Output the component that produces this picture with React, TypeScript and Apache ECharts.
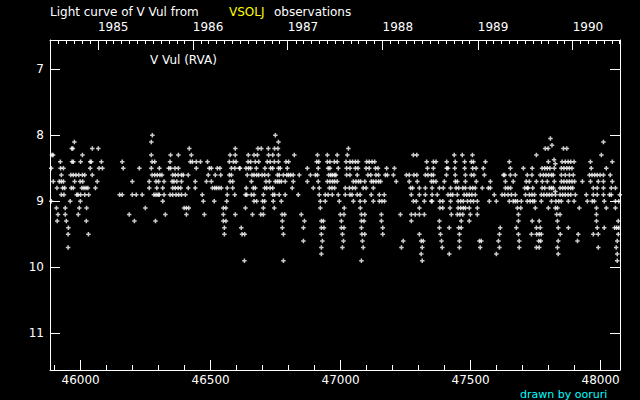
import React, { useEffect, useRef } from "react";
import * as echarts from "echarts";

// Observations of V Vul (JD - 2400000), grouped by estimated visual magnitude
const m80 = [46276, 46749];
const m81 = [45976, 46272, 46761, 48011];
const m82 = [45966, 45970, 46045, 46068, 46418, 46595, 46682, 46695, 46722, 46746, 46759, 47030, 47787, 47798, 47857, 47870];
const m83 = [45890, 45894, 46007, 46272, 46346, 46376, 46426, 46575, 46595, 46645, 46667, 46680, 46723, 46739, 46761, 46822, 46911, 46949, 46987, 47026, 47280, 47293, 47437, 47468, 47507, 47753, 48003];
const m84 = [45922, 45967, 45972, 46000, 46037, 46041, 46080, 46160, 46275, 46285, 46344, 46422, 46430, 46445, 46461, 46488, 46572, 46588, 46598, 46644, 46654, 46672, 46685, 46718, 46729, 46745, 46761, 46790, 46800, 46908, 46916, 46949, 46959, 46976, 46987, 47021, 47036, 47046, 47057, 47067, 47100, 47110, 47121, 47131, 47331, 47357, 47367, 47408, 47441, 47477, 47503, 47511, 47557, 47649, 47799, 47852, 47864, 47875, 47885, 47898, 47961, 48045];
const m85 = [45887, 45923, 45934, 46037, 46071, 46084, 46164, 46226, 46272, 46303, 46339, 46346, 46363, 46376, 46445, 46495, 46503, 46526, 46536, 46580, 46593, 46611, 46613, 46636, 46646, 46654, 46676, 46709, 46731, 46739, 46761, 46768, 46795, 46872, 46914, 46952, 46959, 46991, 47023, 47036, 47057, 47067, 47098, 47110, 47134, 47144, 47177, 47207, 47334, 47357, 47408, 47413, 47439, 47477, 47508, 47521, 47549, 47653, 47703, 47737, 47775, 47785, 47795, 47805, 47822, 47849, 47859, 47870, 47880, 47890, 47964, 48022];
const m86 = [45926, 45962, 45972, 45982, 45993, 46007, 46016, 46045, 46275, 46285, 46295, 46305, 46313, 46354, 46364, 46375, 46388, 46395, 46414, 46491, 46518, 46539, 46572, 46580, 46641, 46659, 46667, 46677, 46685, 46698, 46708, 46722, 46757, 46764, 46780, 46793, 46800, 46808, 46818, 46841, 46884, 46903, 46911, 46954, 46962, 46969, 46977, 46982, 47023, 47036, 47064, 47105, 47116, 47136, 47146, 47172, 47180, 47203, 47253, 47264, 47282, 47293, 47326, 47336, 47349, 47357, 47407, 47441, 47480, 47503, 47513, 47553, 47626, 47631, 47653, 47672, 47718, 47736, 47768, 47780, 47790, 47800, 47811, 47818, 47849, 47864, 47880, 47895, 47957, 47967, 47977, 47987, 47998, 48011, 48037];
const m87 = [45895, 45918, 45926, 45934, 45977, 45998, 46008, 46064, 46199, 46264, 46290, 46300, 46321, 46352, 46359, 46370, 46388, 46441, 46484, 46503, 46575, 46585, 46657, 46713, 46726, 46749, 46757, 46764, 46772, 46787, 46818, 46872, 46914, 46949, 46959, 46969, 46977, 46987, 47049, 47059, 47069, 47077, 47093, 47118, 47126, 47136, 47146, 47154, 47214, 47264, 47295, 47349, 47357, 47367, 47399, 47441, 47449, 47480, 47522, 47576, 47634, 47664, 47714, 47726, 47753, 47776, 47795, 47822, 47849, 47859, 47870, 47880, 47890, 47900, 47930, 47961, 47991, 48011, 48045];
const m88 = [45909, 45931, 45939, 45964, 45972, 46005, 46013, 46021, 46028, 46057, 46264, 46293, 46316, 46354, 46364, 46375, 46385, 46414, 46441, 46507, 46516, 46523, 46532, 46541, 46564, 46585, 46637, 46664, 46672, 46708, 46716, 46729, 46739, 46814, 46895, 46918, 46957, 46967, 46977, 47018, 47034, 47046, 47057, 47087, 47098, 47126, 47269, 47277, 47303, 47326, 47352, 47380, 47395, 47423, 47444, 47454, 47470, 47480, 47498, 47508, 47518, 47545, 47568, 47576, 47634, 47644, 47654, 47708, 47718, 47721, 47739, 47775, 47785, 47803, 47811, 47818, 47844, 47854, 47864, 47875, 47885, 47893, 47972, 47987, 48011, 48041, 48057];
const m89 = [45926, 45936, 45985, 45990, 46000, 46016, 46031, 46150, 46160, 46199, 46214, 46237, 46282, 46290, 46298, 46303, 46321, 46344, 46354, 46367, 46377, 46388, 46403, 46468, 46564, 46593, 46634, 46639, 46657, 46667, 46703, 46739, 46746, 46764, 46787, 46837, 46918, 46941, 46952, 46968, 46991, 47018, 47036, 47044, 47064, 47075, 47118, 47149, 47168, 47272, 47303, 47326, 47352, 47372, 47413, 47423, 47431, 47449, 47475, 47485, 47495, 47505, 47518, 47591, 47621, 47631, 47644, 47657, 47672, 47711, 47726, 47736, 47746, 47772, 47782, 47793, 47803, 47813, 47826, 47844, 47854, 47864, 47875, 47885, 47903, 47945, 47972, 47987, 48011, 48034, 48041, 48074];
const m90 = [45887, 45960, 45999, 46316, 46472, 46514, 46562, 46667, 46677, 46700, 46708, 46741, 46772, 46922, 46941, 46995, 47049, 47075, 47093, 47126, 47149, 47159, 47169, 47280, 47291, 47322, 47349, 47352, 47382, 47393, 47423, 47452, 47462, 47472, 47488, 47500, 47511, 47526, 47572, 47599, 47649, 47664, 47672, 47680, 47695, 47718, 47729, 47739, 47746, 47772, 47811, 47828, 47839, 47849, 47876, 47898, 47949, 47968, 47976, 48014, 48057, 48070];
const m91 = [45907, 45941, 45995, 46023, 46249, 46398, 46407, 46416, 46549, 46559, 46634, 46703, 46745, 46922, 47014, 47076, 47303, 47382, 47393, 47421, 47452, 47462, 47472, 47480, 47495, 47526, 47680, 47693, 47749, 47799, 47826, 47834, 47918, 47984, 48022, 48057];
const m92 = [45913, 45941, 45991, 46187, 46326, 46407, 46476, 46549, 46595, 46661, 46693, 46703, 46775, 46785, 46849, 46999, 47013, 47080, 47093, 47157, 47230, 47272, 47287, 47303, 47322, 47426, 47449, 47459, 47470, 47499, 47526, 47684, 47831, 47844, 47984];
const m93 = [45910, 45945, 46022, 46207, 46288, 46549, 46559, 46776, 46861, 46926, 46934, 47003, 47080, 47090, 47157, 47272, 47380, 47464, 47495, 47684, 47737, 47764, 47834, 47984, 48068];
const m94 = [45953, 46553, 46618, 46776, 46857, 46926, 46936, 47003, 47013, 47080, 47162, 47380, 47418, 47454, 47464, 47614, 47676, 47753, 47768, 47837, 47876, 47987, 48014, 48054, 48062, 48070];
const m95 = [45952, 46030, 46553, 46621, 46631, 46780, 46926, 47007, 47082, 47093, 47162, 47303, 47384, 47457, 47611, 47684, 47734, 47754, 47764, 47772, 47845, 47914, 47972, 47991, 48068];
const m96 = [46857, 46930, 47011, 47084, 47241, 47310, 47318, 47388, 47457, 47534, 47541, 47607, 47687, 47762, 47770, 47837, 47911, 48064];
const m97 = [45952, 46926, 47007, 47087, 47234, 47314, 47391, 47457, 47537, 47611, 47687, 47753, 47764, 47834, 47991, 48060];
const m98 = [46926, 47310, 47418, 47599, 47837, 48064];
const m99 = [46630, 46780, 47080, 47314, 48064];
const oddEstimates: [number, number][] = [[47807, 8.05], [47813, 8.15], [47821, 8.37], [47826, 8.43], [47826, 8.85]];

const magRows: [number, number[]][] = [
  [8.0, m80], [8.1, m81], [8.2, m82], [8.3, m83], [8.4, m84], [8.5, m85],
  [8.6, m86], [8.7, m87], [8.8, m88], [8.9, m89], [9.0, m90], [9.1, m91],
  [9.2, m92], [9.3, m93], [9.4, m94], [9.5, m95], [9.6, m96], [9.7, m97],
  [9.8, m98], [9.9, m99],
];

// Axis labels / ticks
const jdLabels = [46000, 46500, 47000, 47500, 48000];
const jdMinorTicks = [45900, 46000, 46100, 46200, 46300, 46400, 46500, 46600, 46700, 46800, 46900, 47000, 47100, 47200, 47300, 47400, 47500, 47600, 47700, 47800, 47900, 48000];
const magLabels = [7, 8, 9, 10, 11];
const years = [1985, 1986, 1987, 1988, 1989, 1990];

const X_MIN = 45882.3;
const X_MAX = 48074.6;
const Y_MIN = 6.556;
const Y_MAX = 11.556;

// calendar date -> JD - 2400000
const dateToJd = (y: number, m: number) => Date.UTC(y, m, 1) / 86400000 + 40587.5;
const yearStarts = years.map((y) => dateToJd(y, 0));
const monthStarts: number[] = [];
for (let y = 1984; y <= 1991; y++) {
  for (let m = 0; m < 12; m++) {
    const v = dateToJd(y, m);
    if (v > X_MIN && v < X_MAX) monthStarts.push(v);
  }
}

const FONT = '"DejaVu Sans", sans-serif';

export default function App() {
  const ref = useRef<HTMLDivElement>(null);
  useEffect(() => {
    document.body.style.margin = "0";
    document.body.style.background = "#000";
    const chart = echarts.init(ref.current!, null, { renderer: "svg" });
    const data: [number, number][] = [];
    magRows.forEach(([m, jds]) => jds.forEach((j) => data.push([j, m])));
    oddEstimates.forEach((p) => data.push(p));

    const white = { color: "#fff", width: 1 };
    const baseX = { type: "value", min: X_MIN, max: X_MAX, splitLine: { show: false }, scale: true };
    const baseY = { type: "value", min: Y_MIN, max: Y_MAX, inverse: true, splitLine: { show: false } };

    chart.setOption({
      animation: false,
      backgroundColor: "#000",
      grid: { left: 50, right: 20, top: 40, bottom: 30, containLabel: false },
      xAxis: [
        {
          ...baseX,
          position: "bottom",
          axisLine: { show: true, lineStyle: white },
          axisTick: { show: true, inside: true, length: 10, customValues: jdLabels, lineStyle: white },
          axisLabel: {
            show: true,
            customValues: jdLabels,
            color: "#fff",
            fontFamily: FONT,
            fontSize: 12,
            margin: 4,
            formatter: (v: number) => String(Math.round(v)),
          },
        },
        {
          ...baseX,
          position: "bottom",
          axisLine: { show: false },
          axisTick: { show: true, inside: true, length: 5, customValues: jdMinorTicks, lineStyle: white },
          axisLabel: { show: false },
        },
        {
          ...baseX,
          position: "top",
          axisLine: { show: true, lineStyle: white },
          axisTick: { show: true, inside: true, length: 10, customValues: yearStarts, lineStyle: white },
          axisLabel: {
            show: true,
            customValues: yearStarts,
            align: "left",
            color: "#fff",
            fontFamily: FONT,
            fontSize: 12,
            margin: 7,
            formatter: (v: number) => String(new Date((v - 40587.5 + 1) * 86400000).getUTCFullYear()),
          },
        },
        {
          ...baseX,
          position: "top",
          axisLine: { show: false },
          axisTick: { show: true, inside: true, length: 4, customValues: monthStarts, lineStyle: white },
          axisLabel: { show: false },
        },
      ],
      yAxis: [
        {
          ...baseY,
          position: "left",
          axisLine: { show: true, lineStyle: white },
          axisTick: { show: true, inside: true, length: 10, customValues: magLabels, lineStyle: white },
          axisLabel: { show: true, customValues: magLabels, color: "#fff", fontFamily: FONT, fontSize: 12, margin: 6 },
        },
        {
          ...baseY,
          position: "right",
          axisLine: { show: true, lineStyle: white },
          axisTick: { show: true, inside: true, length: 10, customValues: magLabels, lineStyle: white },
          axisLabel: { show: false },
        },
      ],
      series: [
        {
          type: "scatter",
          xAxisIndex: 0,
          yAxisIndex: 0,
          data,
          symbol: "path://M1,0H2V1H3V2H2V3H1V2H0V1H1Z",
          symbolSize: 4.5,
          itemStyle: { color: "#fff" },
          silent: true,
        },
      ],
      graphic: [
        { type: "text", x: 50, y: 12, style: { text: "Light curve of V Vul from", fill: "#fff", font: `12px ${FONT}`, verticalAlign: "middle" } },
        { type: "text", x: 229, y: 12, style: { text: "VSOLJ", fill: "#ffff00", font: `12px ${FONT}`, verticalAlign: "middle" } },
        { type: "text", x: 274, y: 12, style: { text: "observations", fill: "#fff", font: `12px ${FONT}`, verticalAlign: "middle" } },
        { type: "text", x: 150, y: 60, style: { text: "V Vul (RVA)", fill: "#fff", font: `12px ${FONT}`, verticalAlign: "middle" } },
        { type: "text", x: 520, y: 394, style: { text: "drawn by ooruri", fill: "#00ffff", font: `11px ${FONT}`, verticalAlign: "middle" } },
      ],
    });
    return () => chart.dispose();
  }, []);
  return <div ref={ref} style={{ width: 640, height: 400 }} />;
}
